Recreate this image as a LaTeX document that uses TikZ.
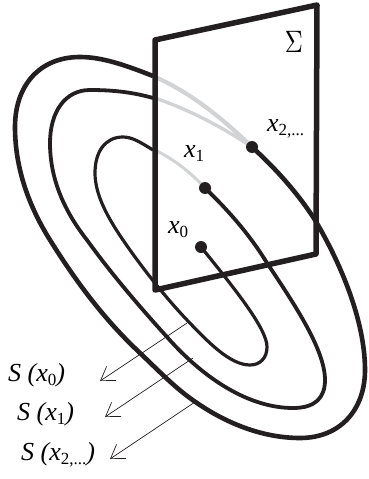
\documentclass[tikz,border=0pt]{standalone}
\usepackage{fontspec}
\usepackage{graphicx}
\setmainfont{Liberation Serif}
\usetikzlibrary{arrows.meta}
\tikzset{
 lab/.style={inner sep=0pt,font=\fontsize{26}{28}\selectfont\itshape},
 dotn/.style={circle,fill=curve,inner sep=0pt,minimum size=12pt},
 guide/.style={draw=curve,line width=0.7pt,-{Straight Barb[length=13pt,width=17pt,line width=0.7pt]}},
 grey/.style={draw=shade},
 plane/.style={draw=curve,line width=5.5pt,line join=round,line cap=round},
}
\definecolor{curve}{HTML}{231F20}
\definecolor{shade}{HTML}{D1D3D4}
\newcommand{\sbs}[1]{\raisebox{-4pt}{\upshape\fontsize{17}{18}\selectfont #1}}
\begin{document}
\begin{tikzpicture}[x=1pt,y=-1pt]
\useasboundingbox (0,0) rectangle (369,479);
\coordinate (p1) at (155,40);
\coordinate (p2) at (317,5);
\coordinate (p3) at (316,254);
\coordinate (p4) at (155,290);
\coordinate (d0) at (201,247);
\coordinate (d1) at (205,188);
\coordinate (d2) at (252,147);
% grey continuations
\draw[grey,line width=4.2pt] (153,76) .. controls (190,92) and (222,118) .. (d2);
\draw[grey,line width=3.4pt] (155,98) .. controls (190,110) and (222,127) .. (d2);
\draw[grey,line width=3pt] (155,150) .. controls (175,160) and (190,172) .. (d1);
% loops
\draw[draw=curve,line width=4.6pt] (153,76) .. controls (125,65) and (102,57) .. (80,57)
 .. controls (40,57) and (15,85) .. (15,127)
 .. controls (15,170) and (30,208) .. (50,240)
 .. controls (80,288) and (108,323) .. (140,353)
 .. controls (160,372) and (176,389) .. (197,403)
 .. controls (232,427) and (268,438) .. (300,438)
 .. controls (340,438) and (365,410) .. (365,370)
 .. controls (365,320) and (340,262) .. (315,220)
 .. controls (297,192) and (275,168) .. (d2);
\draw[draw=curve,line width=3.8pt] (153,98) .. controls (132,92) and (112,90) .. (90,90)
 .. controls (65,90) and (50,112) .. (50,143)
 .. controls (50,180) and (65,212) .. (87,240)
 .. controls (110,272) and (138,305) .. (167,337)
 .. controls (205,380) and (250,408) .. (293,408)
 .. controls (315,408) and (325,398) .. (325,380)
 .. controls (325,350) and (295,305) .. (267,263)
 .. controls (250,235) and (228,210) .. (d1);
\draw[draw=curve,line width=3.2pt] (153,150) .. controls (140,142) and (132,137) .. (123,137)
 .. controls (105,137) and (95,152) .. (95,173)
 .. controls (95,195) and (108,218) .. (123,240)
 .. controls (140,265) and (165,297) .. (187,320)
 .. controls (208,342) and (230,365) .. (250,365)
 .. controls (260,365) and (267,358) .. (267,347)
 .. controls (267,330) and (240,295) .. (d0);
\node[dotn] (n0) at (d0) {};
\node[dotn] (n1) at (d1) {};
\node[dotn] (n2) at (d2) {};
% plane
\draw[plane] (p1) -- (p2) -- (p3) -- (p4) -- cycle;
% arrows
\coordinate (a1s) at (187,323); \coordinate (a1e) at (100,381);
\coordinate (a2s) at (193,358); \coordinate (a2e) at (105,417);
\coordinate (a3s) at (195,402); \coordinate (a3e) at (110,459);
\draw[guide] (a1s) -- (a1e);
\draw[guide] (a2s) -- (a2e);
\draw[guide] (a3s) -- (a3e);
% labels
\node[inner sep=0pt] (sig) at (294,42) {\scalebox{2.5}[3.1]{$\Sigma$}};
\node[lab,anchor=base west] (x0) at (168,233) {x\sbs{0}};
\node[lab,anchor=base west] (x1) at (184,157) {x\sbs{1}};
\node[lab,anchor=base west] (x2) at (267,131) {x\sbs{2,...}};
\node[lab,anchor=base west] (s0) at (8,381) {S (x\sbs{0})};
\node[lab,anchor=base west] (s1) at (17,420) {S (x\sbs{1})};
\node[lab,anchor=base west] (s2) at (21,460) {S (x\sbs{2,...})};
\end{tikzpicture}
\end{document}
